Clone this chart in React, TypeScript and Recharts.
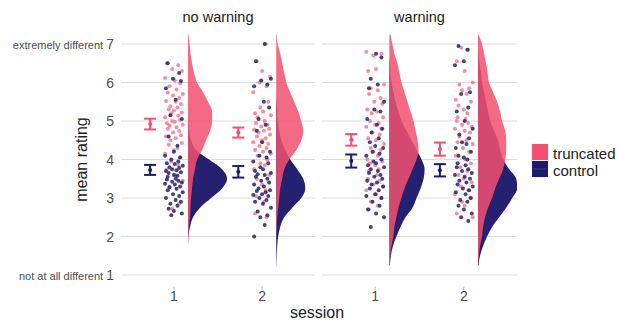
import { ComposedChart, Area, Scatter, ErrorBar, XAxis, YAxis, CartesianGrid } from 'recharts';

const PINK = '#f2506e';
const NAVY = '#1c1a6b';
const PINK_DOT = '#f47a91';
const NAVY_DOT = '#24226f';
const FONT = '"Liberation Sans", Arial, sans-serif';

const sessions = [1, 2];
const yTicks = [1, 2, 3, 4, 5, 6, 7];
const yPrefix: Record<number, string> = { 7: 'extremely different', 1: 'not at all different' };

// rating grid the half-violins are drawn on
const ratings = [1.25, 1.5, 1.75, 2, 2.25, 2.5, 2.75, 3, 3.25, 3.5, 3.75, 4, 4.25, 4.5, 4.75, 5, 5.25, 5.5, 5.75, 6, 6.25, 6.5, 6.75, 7, 7.25];

// density (violin half-width)
const noWarn1Trunc = [0, 0, 0, 0.5, 1, 2, 2.5, 3, 4, 5, 7, 9, 14, 18, 22, 24, 24, 20, 15, 9, 6, 4, 2.5, 1.5, 0.5];
const noWarn1Ctrl = [0, 0, 0, 0.3, 2, 5, 12, 23, 34, 39, 34, 21, 8, 3, 1, 0.3, 0, 0, 0, 0, 0, 0, 0, 0, 0];
const noWarn2Trunc = [0, 0, 0, 0, 0.5, 1, 2, 3, 4, 6, 8, 13, 20, 25, 27, 25, 22, 18, 14, 10, 8, 6, 4, 1.5, 0.5];
const noWarn2Ctrl = [0.2, 0.5, 1, 2, 4, 8, 16, 25, 29, 27, 21, 14, 9, 5, 3, 1.5, 1, 0.5, 0, 0, 0, 0, 0, 0, 0];
const warn1Trunc = [0.3, 1, 2, 4, 5, 7, 9, 12, 15, 19, 23, 27, 29, 28, 26, 24, 21, 18, 15, 12, 10, 8, 5, 3, 1];
const warn1Ctrl = [0.5, 1.5, 3.5, 7, 11, 16, 23, 27, 31, 34, 35, 32, 27, 22, 17, 12, 9, 6, 4, 2, 1, 0.5, 0, 0, 0];
const warn2Trunc = [0, 1, 2, 4, 5, 7, 10, 14, 17, 21, 25, 27, 28, 28, 27, 24, 22, 19, 15, 11, 9.5, 8, 6, 4, 0.5];
const warn2Ctrl = [0.5, 2, 5, 9, 14, 21, 28, 34, 39, 38, 31, 25, 22, 20, 16, 12, 10, 8, 6, 4, 3, 1.5, 0.5, 0, 0];

// participant mean ratings (raw points)
const noWarn1TruncPts = [6.5, 6.45, 6.35, 6.3, 6.12, 6.05, 5.98, 5.9, 5.82, 5.74, 5.7, 5.66, 5.6, 5.52, 5.5, 5.44, 5.38, 5.35, 5.3, 5.27, 5.22, 5.2, 5.14, 5.1, 5.03, 5.0, 4.98, 4.94, 4.9, 4.88, 4.84, 4.8, 4.74, 4.7, 4.63, 4.6, 4.55, 4.5, 4.43, 4.38, 4.3, 4.24, 4.15, 4.06, 3.95, 3.86, 3.74, 3.6, 3.45, 3.3, 2.86, 2.72];
const noWarn1CtrlPts = [6.5, 6.25, 6.1, 6.04, 5.85, 5.55, 5.15, 5.05, 4.6, 4.36, 4.2, 4.1, 4.05, 4.0, 3.95, 3.9, 3.88, 3.84, 3.8, 3.78, 3.75, 3.72, 3.7, 3.67, 3.65, 3.6, 3.58, 3.55, 3.5, 3.48, 3.45, 3.42, 3.4, 3.37, 3.35, 3.3, 3.28, 3.24, 3.2, 3.15, 3.1, 3.05, 3.0, 2.95, 2.9, 2.85, 2.8, 2.72, 2.66, 2.6, 2.55];
const noWarn2TruncPts = [7.0, 6.55, 6.3, 6.15, 6.0, 5.9, 5.75, 5.5, 5.35, 5.25, 5.2, 5.15, 5.1, 5.0, 4.95, 4.9, 4.86, 4.8, 4.78, 4.75, 4.7, 4.65, 4.6, 4.55, 4.5, 4.45, 4.4, 4.35, 4.3, 4.25, 4.2, 4.15, 4.1, 4.0, 3.9, 3.85, 3.75, 3.6, 3.5, 3.35, 3.2, 3.05, 2.9, 2.6, 2.5];
const noWarn2CtrlPts = [7.0, 6.55, 6.1, 6.05, 5.95, 5.9, 5.5, 5.35, 5.05, 4.9, 4.75, 4.45, 4.2, 4.1, 4.05, 3.95, 3.9, 3.8, 3.75, 3.7, 3.65, 3.62, 3.6, 3.55, 3.5, 3.45, 3.4, 3.35, 3.3, 3.25, 3.2, 3.18, 3.15, 3.1, 3.08, 3.05, 3.0, 2.95, 2.9, 2.85, 2.75, 2.65, 2.55, 2.5, 2.3, 2.0];
const warn1TruncPts = [6.8, 6.75, 6.7, 6.35, 6.3, 5.95, 5.85, 5.8, 5.7, 5.6, 5.5, 5.45, 5.3, 5.25, 5.2, 5.1, 5.0, 4.95, 4.9, 4.85, 4.8, 4.7, 4.65, 4.55, 4.5, 4.4, 4.3, 4.25, 4.2, 4.1, 4.0, 3.95, 3.9, 3.85, 3.75, 3.7, 3.6, 3.5, 3.45, 3.35, 3.3, 3.2, 3.1, 3.0, 2.9, 2.8, 2.7];
const warn1CtrlPts = [6.75, 6.65, 6.1, 5.95, 5.85, 5.5, 5.3, 5.25, 5.05, 4.9, 4.8, 4.7, 4.55, 4.45, 4.35, 4.3, 4.2, 4.15, 4.1, 4.0, 3.95, 3.9, 3.85, 3.8, 3.75, 3.7, 3.65, 3.6, 3.55, 3.5, 3.45, 3.4, 3.35, 3.3, 3.25, 3.2, 3.1, 3.05, 3.0, 2.9, 2.8, 2.7, 2.6, 2.5, 2.25];
const warn2TruncPts = [6.9, 6.85, 6.55, 6.3, 6.0, 5.95, 5.85, 5.8, 5.7, 5.55, 5.5, 5.4, 5.3, 5.2, 5.1, 5.05, 5.0, 4.95, 4.9, 4.85, 4.8, 4.75, 4.7, 4.6, 4.5, 4.45, 4.4, 4.3, 4.2, 4.1, 4.0, 3.9, 3.8, 3.7, 3.6, 3.5, 3.4, 3.3, 3.2, 3.1, 3.0, 2.9, 2.8, 2.6, 2.5];
const warn2CtrlPts = [6.95, 6.85, 6.55, 6.45, 5.75, 5.7, 5.35, 5.25, 5.0, 4.8, 4.65, 4.55, 4.45, 4.4, 4.3, 4.2, 4.1, 4.05, 4.0, 3.9, 3.85, 3.8, 3.75, 3.7, 3.65, 3.6, 3.55, 3.5, 3.45, 3.4, 3.35, 3.3, 3.25, 3.2, 3.15, 3.1, 3.0, 2.95, 2.9, 2.8, 2.7, 2.6, 2.5, 2.4];

// horizontal jitter of the raw points (hand set)
const jitter = [-0.08, 0.05, -0.02, 0.09, -0.1, 0.01, 0.07, -0.05, 0.03, -0.07, 0.1, -0.01, 0.06, -0.09, 0.02, 0.08, -0.04, 0.04, -0.06, 0, 0.09, -0.03, 0.05, -0.1, 0.07, -0.02, 0.01, -0.08, 0.1, -0.05, 0.03, -0.07, 0.06, -0.01, 0.08, -0.09, 0.02, -0.04, 0.09, -0.06, 0.04, 0, -0.1, 0.07, -0.03, 0.05, -0.08, 0.01, 0.1, -0.05, 0.06, -0.02, 0.03, -0.09, 0.08, -0.06, 0, 0.04, -0.07, 0.02];

// group means with 95% CI half width, per session
const noWarnTruncMean = [4.92, 4.7];
const noWarnTruncCi = [0.14, 0.13];
const noWarnCtrlMean = [3.73, 3.68];
const noWarnCtrlCi = [0.13, 0.15];
const warnTruncMean = [4.51, 4.27];
const warnTruncCi = [0.15, 0.17];
const warnCtrlMean = [3.96, 3.72];
const warnCtrlCi = [0.17, 0.16];

const VIOLIN_SHIFT = 0.16;
const MEAN_SHIFT = -0.27;
const DENS_SCALE = 1 / 88;

function violinRows(t1: number[], c1: number[], t2: number[], c2: number[]) {
  return ratings.map((r, i) => ({
    r,
    t1: 1 + VIOLIN_SHIFT + t1[i] * DENS_SCALE,
    c1: 1 + VIOLIN_SHIFT + c1[i] * DENS_SCALE,
    t2: 2 + VIOLIN_SHIFT + t2[i] * DENS_SCALE,
    c2: 2 + VIOLIN_SHIFT + c2[i] * DENS_SCALE,
  }));
}

function pts(session: number, vals: number[], offset: number) {
  return vals.map((r, i) => ({ x: session + jitter[(i + offset) % jitter.length], r }));
}

function means(m: number[], ci: number[]) {
  return sessions.map((s, i) => ({ x: s + MEAN_SHIFT, r: m[i], e: ci[i] }));
}

function RatingTick({ x, y, payload }: any) {
  const pre = yPrefix[payload.value];
  return (
    <text x={x} y={y + 5} textAnchor="end" fill="#4d4d4d">
      {pre && <tspan fontSize={11}>{pre} </tspan>}
      <tspan fontSize={14}>{payload.value}</tspan>
    </text>
  );
}

const dot = (color: string, r: number, op: number) => (p: any) =>
  <circle cx={p.cx} cy={p.cy} r={r} fill={color} fillOpacity={op} />;

function Panel({ left, width, showY, rows, truncPts, ctrlPts, truncMean, ctrlMean }: any) {
  return (
    <div style={{ position: 'absolute', left, top: 0 }}>
      <ComposedChart layout="vertical" width={width} height={322} data={rows}
        margin={{ top: 24.75, right: showY ? 1 : 0, bottom: 0, left: 0 }}>
        <CartesianGrid vertical={false} stroke="#dcdcdc" horizontalValues={yTicks} />
        <XAxis type="number" dataKey="x" domain={[0.4, 2.6]} ticks={sessions} allowDataOverflow
          height={35.45} axisLine={false} tickSize={3} tickMargin={2}
          tickLine={{ stroke: '#b0b0b0' }} tick={{ fontSize: 14, fill: '#4d4d4d' }} />
        <YAxis type="number" dataKey="r" domain={[0.7, 7.5]} ticks={yTicks} allowDataOverflow reversed
          hide={!showY} width={showY ? 121 : 0} axisLine={false} tickLine={false}
          tickSize={0} tickMargin={7} tick={<RatingTick />} />
        <Area dataKey="c1" baseValue={1 + VIOLIN_SHIFT} type="monotone" fill={NAVY} fillOpacity={0.97} stroke="none" dot={false} activeDot={false} isAnimationActive={false} />
        <Area dataKey="t1" baseValue={1 + VIOLIN_SHIFT} type="monotone" fill={PINK} fillOpacity={0.85} stroke="none" dot={false} activeDot={false} isAnimationActive={false} />
        <Area dataKey="c2" baseValue={2 + VIOLIN_SHIFT} type="monotone" fill={NAVY} fillOpacity={0.97} stroke="none" dot={false} activeDot={false} isAnimationActive={false} />
        <Area dataKey="t2" baseValue={2 + VIOLIN_SHIFT} type="monotone" fill={PINK} fillOpacity={0.85} stroke="none" dot={false} activeDot={false} isAnimationActive={false} />
        <Scatter data={truncPts} shape={dot(PINK_DOT, 2, 0.85)} isAnimationActive={false} />
        <Scatter data={ctrlPts} shape={dot(NAVY_DOT, 2, 0.85)} isAnimationActive={false} />
        <Scatter data={truncMean} shape={dot(PINK, 2, 1)} isAnimationActive={false}>
          <ErrorBar dataKey="e" direction="y" width={6} stroke={PINK} strokeWidth={2} />
        </Scatter>
        <Scatter data={ctrlMean} shape={dot(NAVY, 2, 1)} isAnimationActive={false}>
          <ErrorBar dataKey="e" direction="y" width={6} stroke={NAVY} strokeWidth={2} />
        </Scatter>
      </ComposedChart>
    </div>
  );
}

export default function App() {
  const noWarnRows = violinRows(noWarn1Trunc, noWarn1Ctrl, noWarn2Trunc, noWarn2Ctrl);
  const warnRows = violinRows(warn1Trunc, warn1Ctrl, warn2Trunc, warn2Ctrl);
  return (
    <div style={{ position: 'absolute', left: 0, top: 0, width: 619, height: 322, background: '#fff', fontFamily: FONT }}>
      <Panel left={0} width={316} showY rows={noWarnRows}
        truncPts={[...pts(1, noWarn1TruncPts, 0), ...pts(2, noWarn2TruncPts, 17)]}
        ctrlPts={[...pts(1, noWarn1CtrlPts, 31), ...pts(2, noWarn2CtrlPts, 8)]}
        truncMean={means(noWarnTruncMean, noWarnTruncCi)}
        ctrlMean={means(noWarnCtrlMean, noWarnCtrlCi)} />
      <Panel left={322} width={195} showY={false} rows={warnRows}
        truncPts={[...pts(1, warn1TruncPts, 23), ...pts(2, warn2TruncPts, 44)]}
        ctrlPts={[...pts(1, warn1CtrlPts, 5), ...pts(2, warn2CtrlPts, 39)]}
        truncMean={means(warnTruncMean, warnTruncCi)}
        ctrlMean={means(warnCtrlMean, warnCtrlCi)} />
      <svg width={619} height={322} style={{ position: 'absolute', left: 0, top: 0, pointerEvents: 'none' }}>
        <text x={218} y={22} textAnchor="middle" fontSize={14.5} fill="#1a1a1a">no warning</text>
        <text x={419.5} y={22} textAnchor="middle" fontSize={14.5} fill="#1a1a1a">warning</text>
        <text x={87} y={159.5} textAnchor="middle" fontSize={16} fill="#222" transform="rotate(-90 87 159.5)">mean rating</text>
        <text x={317} y={318} textAnchor="middle" fontSize={16} fill="#222">session</text>
        <rect x={532} y={144} width={16} height={16} fill={PINK} />
        <rect x={532} y={161} width={16} height={16} fill={NAVY} />
        <line x1={533} x2={547} y1={169} y2={169} stroke="#34327a" strokeWidth={1.5} />
        <text x={553} y={158.5} fontSize={15} fill="#222">truncated</text>
        <text x={553} y={176} fontSize={15} fill="#222">control</text>
      </svg>
    </div>
  );
}
